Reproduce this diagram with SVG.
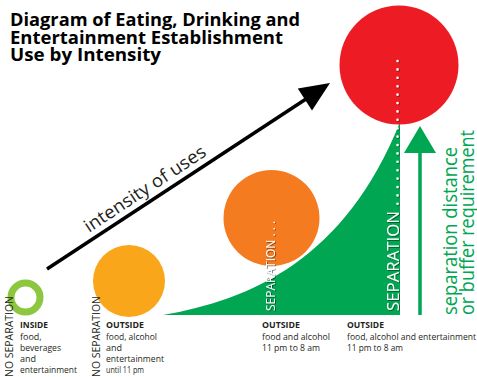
<svg xmlns="http://www.w3.org/2000/svg" width="477" height="377" viewBox="0 0 477 377">
<defs>
<style>
.title{font-family:"Open Sans","DejaVu Sans",sans-serif;font-weight:700;font-size:18.5px;fill:#000}
.lbl{font-family:"Open Sans","DejaVu Sans",sans-serif;font-size:9px;fill:#231f20}
.lblb{font-family:"Open Sans","DejaVu Sans",sans-serif;font-size:9px;font-weight:700;fill:#231f20}
.nosep{font-family:"Open Sans","DejaVu Sans",sans-serif;font-size:10.5px;fill:#231f20}
.sep{font-family:"Open Sans","DejaVu Sans",sans-serif;fill:#fff}
.gtxt{font-family:"Open Sans","DejaVu Sans",sans-serif;font-size:20px;fill:#00a651}
.axis{font-family:"Open Sans","DejaVu Sans",sans-serif;font-size:18px;fill:#231f20}
</style>
<filter id="sh" x="-20%" y="-20%" width="140%" height="140%">
<feDropShadow dx="0.8" dy="0.8" stdDeviation="0.4" flood-color="#000" flood-opacity="0.55"/>
</filter>
</defs>
<rect width="477" height="377" fill="#fff"/>

<g id="title">
<text class="title" x="10" y="26" textLength="290" lengthAdjust="spacingAndGlyphs">Diagram of Eating, Drinking and</text>
<text class="title" x="10" y="43.5" textLength="273" lengthAdjust="spacingAndGlyphs">Entertainment Establishment</text>
<text class="title" x="10" y="61" textLength="151" lengthAdjust="spacingAndGlyphs">Use by Intensity</text>
</g>

<g id="buffer-area">
<path d="M163,315 C250,300 345,260 400,122 L400,315 Z" fill="#00a651"/>
</g>

<g id="node-inside">
<circle cx="25.5" cy="297.5" r="14.5" fill="none" stroke="#8dc63f" stroke-width="7"/>
</g>
<g id="node-outside-11pm">
<circle cx="129" cy="281" r="36" fill="#faa61a"/>
</g>
<g id="node-outside-food-alcohol">
<circle cx="271.5" cy="218" r="48" fill="#f47b20"/>
</g>
<g id="node-outside-all">
<circle cx="399" cy="65" r="59.5" fill="#ed1c24"/>
</g>

<g id="connectors">
<line x1="47" y1="269" x2="306" y2="99" stroke="#000" stroke-width="3.5"/>
<polygon points="330,83 297.8,88.6 312,110.4" fill="#000"/>
<line x1="420" y1="315" x2="420" y2="150" stroke="#00a651" stroke-width="3.5"/>
<polygon points="420,126 404,153 436,153" fill="#00a651"/>
</g>

<g id="separation-marks" filter="url(#sh)">
<line x1="397.5" y1="61" x2="397.5" y2="204" stroke="#fff" stroke-width="2.6" stroke-linecap="round" stroke-dasharray="0 8.4"/>
<text class="sep" transform="translate(398.5,311) rotate(-90)" font-size="17" textLength="100" lengthAdjust="spacingAndGlyphs">SEPARATION</text>
<text class="sep" transform="translate(275,311) rotate(-90)" font-size="12">SEPARATION . . .</text>
</g>

<g id="axis-label">
<text class="axis" transform="translate(89,233) rotate(-33.4)" textLength="142" lengthAdjust="spacingAndGlyphs">intensity of uses</text>
</g>

<g id="buffer-label">
<text class="gtxt" transform="translate(457,315) rotate(-90)" textLength="168" lengthAdjust="spacingAndGlyphs">separation distance</text>
<text class="gtxt" transform="translate(473.5,315) rotate(-90)" textLength="185" lengthAdjust="spacingAndGlyphs">or buffer requirement</text>
</g>

<g id="nosep-labels">
<text class="nosep" transform="translate(12.5,377) rotate(-90)" textLength="81" lengthAdjust="spacingAndGlyphs">NO SEPARATION</text>
<text class="nosep" transform="translate(100,377) rotate(-90)" textLength="81" lengthAdjust="spacingAndGlyphs">NO SEPARATION</text>
</g>

<g id="label-inside">
<text class="lblb" x="20" y="328" textLength="28" lengthAdjust="spacingAndGlyphs">INSIDE</text>
<text class="lbl" x="20" y="339.5">food,</text>
<text class="lbl" x="20" y="351" textLength="41" lengthAdjust="spacingAndGlyphs">beverages</text>
<text class="lbl" x="20" y="362">and</text>
<text class="lbl" x="20" y="373" textLength="57" lengthAdjust="spacingAndGlyphs">entertainment</text>
</g>
<g id="label-outside-1">
<text class="lblb" x="106" y="328" textLength="38" lengthAdjust="spacingAndGlyphs">OUTSIDE</text>
<text class="lbl" x="106" y="339.5" textLength="51" lengthAdjust="spacingAndGlyphs">food, alcohol</text>
<text class="lbl" x="106" y="351">and</text>
<text class="lbl" x="106" y="362" textLength="58" lengthAdjust="spacingAndGlyphs">entertainment</text>
<text class="lbl" x="106" y="373" textLength="38" lengthAdjust="spacingAndGlyphs">until 11 pm</text>
</g>
<g id="label-outside-2">
<text class="lblb" x="262" y="328" textLength="38" lengthAdjust="spacingAndGlyphs">OUTSIDE</text>
<text class="lbl" x="262" y="339.5" textLength="68" lengthAdjust="spacingAndGlyphs">food and alcohol</text>
<text class="lbl" x="262" y="351" textLength="58" lengthAdjust="spacingAndGlyphs">11 pm to 8 am</text>
</g>
<g id="label-outside-3">
<text class="lblb" x="347" y="328" textLength="37" lengthAdjust="spacingAndGlyphs">OUTSIDE</text>
<text class="lbl" x="347" y="339.5" textLength="129" lengthAdjust="spacingAndGlyphs">food, alcohol and entertainment</text>
<text class="lbl" x="347" y="351" textLength="56" lengthAdjust="spacingAndGlyphs">11 pm to 8 am</text>
</g>
</svg>
